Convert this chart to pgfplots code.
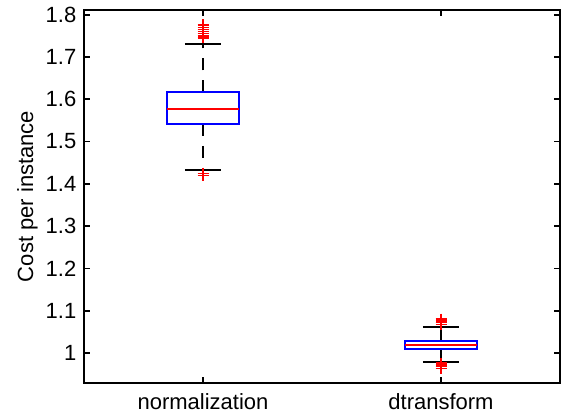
\documentclass[border=0pt]{standalone}
\usepackage{fontspec}
\setmainfont{Liberation Sans}
\usepackage{pgfplots}
\pgfplotsset{compat=1.18}
\usepgfplotslibrary{statistics}
\usetikzlibrary{calc}

\begin{document}
\fontsize{11}{13}\selectfont
\begin{tikzpicture}
\begin{axis}[
    scale only axis,
    width=238pt, height=186.5pt,
    xmin=0.5, xmax=2.5,
    ymin=0.929, ymax=1.811,
    xtick={1,2},
    xticklabels={normalization,dtransform},
    xticklabel style={yshift=-1.5pt},
    ytick={1,1.1,1.2,1.3,1.4,1.5,1.6,1.7,1.8},
    ylabel={Cost per instance},
    ylabel style={at={(axis description cs:-0.119,0.5)},anchor=center},
    tick align=inside,
    major tick length=2.8pt,
    axis line style={line width=0.9pt},
    every tick/.style={black,line width=0.9pt},
    /pgf/number format/assume math mode=true,
    boxplot/draw direction=y,
    boxplot/box extend=0.3,
    boxplot/whisker extend=0.152,
    boxplot/every box/.style={draw=blue,line width=1pt,solid},
    boxplot/every median/.style={draw=red,line width=1pt,solid},
    boxplot/draw/lower whisker/.code={
        \draw[black,line width=0.9pt,dash pattern=on 6pt off 5pt]
            (boxplot box cs:\pgfplotsboxplotvalue{lower quartile},0.5)
            -- (boxplot box cs:\pgfplotsboxplotvalue{lower whisker},0.5);
        \draw[black,line width=0.9pt,solid]
            (boxplot whisker cs:\pgfplotsboxplotvalue{lower whisker},0)
            -- (boxplot whisker cs:\pgfplotsboxplotvalue{lower whisker},1);
    },
    boxplot/draw/upper whisker/.code={
        \draw[black,line width=0.9pt,dash pattern=on 6pt off 5pt]
            (boxplot box cs:\pgfplotsboxplotvalue{upper quartile},0.5)
            -- (boxplot box cs:\pgfplotsboxplotvalue{upper whisker},0.5);
        \draw[black,line width=0.9pt,solid]
            (boxplot whisker cs:\pgfplotsboxplotvalue{upper whisker},0)
            -- (boxplot whisker cs:\pgfplotsboxplotvalue{upper whisker},1);
    },
]
% normalization
\addplot[red, mark=+, mark size=2.75pt, mark options={solid,line width=0.7pt},
    boxplot prepared={draw position=1,
        lower whisker=1.433, lower quartile=1.542,
        median=1.578, upper quartile=1.616, upper whisker=1.730}]
    table[row sep=\\,y index=0] {
    data\\ 1.420\\ 1.425\\
    1.745\\ 1.750\\ 1.755\\ 1.760\\ 1.765\\ 1.770\\ 1.776\\
    };
% dtransform
\addplot[red, mark=+, mark size=2.75pt, mark options={solid,line width=0.7pt},
    boxplot prepared={draw position=2,
        lower whisker=0.979, lower quartile=1.009,
        median=1.019, upper quartile=1.029, upper whisker=1.061}]
    table[row sep=\\,y index=0] {
    data\\ 0.964\\ 0.968\\ 0.972\\ 0.976\\
    1.068\\ 1.072\\ 1.076\\ 1.080\\
    };
\coordinate (sw) at (rel axis cs:0,0);
\coordinate (ne) at (rel axis cs:1,1);
\end{axis}
\pgfresetboundingbox
\path[use as bounding box] ($(sw)+(-42pt,-17pt)$) rectangle ($(ne)+(0.5pt,5pt)$);
\end{tikzpicture}
\end{document}
